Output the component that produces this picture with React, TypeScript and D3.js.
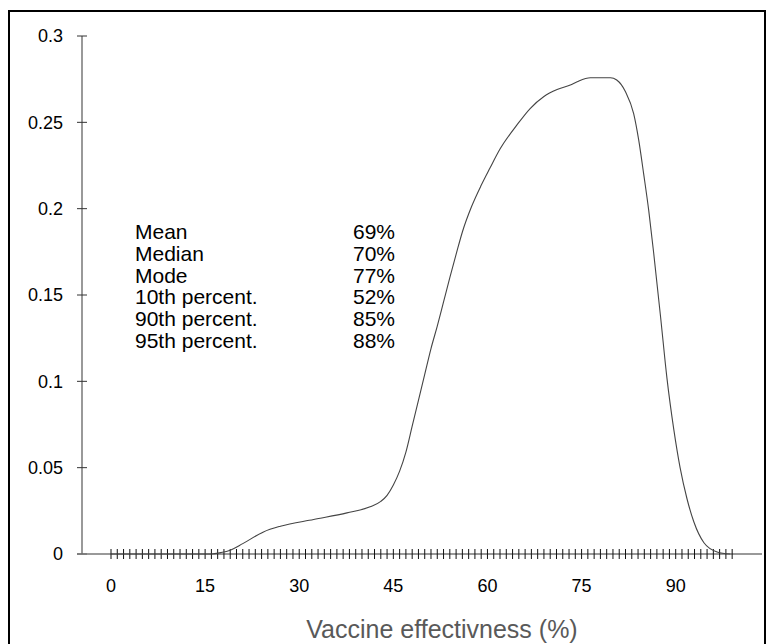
import * as d3 from "d3";
import { useEffect, useRef } from "react";

// density curve
const effectiveness = [0, 16, 17.5, 19, 21, 24.3, 27, 32.3, 37.6, 41.3, 43, 44, 45, 46, 47, 48, 49, 50, 51, 52, 53, 54, 55, 56, 57.5, 59, 60.4, 62, 64.7, 66.8, 69, 71.1, 73.2, 74.3, 76.4, 79.6, 80.6, 82, 83.3, 84.1, 84.9, 85.7, 86.5, 87.6, 88.6, 89.7, 90.7, 91.8, 92.9, 94.5, 96.6, 98.7];
const density = [0, 0, 0.0008, 0.0022, 0.006, 0.0128, 0.0161, 0.02, 0.0238, 0.0273, 0.0305, 0.034, 0.04, 0.048, 0.059, 0.074, 0.089, 0.104, 0.119, 0.132, 0.146, 0.16, 0.1735, 0.1865, 0.2015, 0.2135, 0.2235, 0.2345, 0.2485, 0.258, 0.265, 0.269, 0.2716, 0.2735, 0.2758, 0.2758, 0.2745, 0.2677, 0.255, 0.2398, 0.22, 0.199, 0.174, 0.137, 0.102, 0.072, 0.05, 0.032, 0.0185, 0.0065, 0.0012, 0];

const xTickLabels = [0, 15, 30, 45, 60, 75, 90];
const xMinorTicks = d3.range(0, 100);
const yTicks = [0, 0.05, 0.1, 0.15, 0.2, 0.25, 0.3];

const statLabels = ["Mean", "Median", "Mode", "10th percent.", "90th percent.", "95th percent."];
const statValues = ["69%", "70%", "77%", "52%", "85%", "88%"];

const FONT = "'Liberation Sans', Arial, sans-serif";

const App = () => {
	const chartRef = useRef(null);

	useEffect(() => {
		const svg = d3.select(chartRef.current);
		svg.selectAll("*").remove();

		const x = d3.scaleLinear().domain([0, 90]).range([111, 675.7]);
		const y = d3.scaleLinear().domain([0, 0.3]).range([554, 36]);
		const axisX = 82;
		const axisY = y(0);

		// outer frame
		svg.append("rect")
			.attr("x", 9).attr("y", 11)
			.attr("width", 756).attr("height", 660)
			.attr("fill", "none")
			.attr("stroke", "#000")
			.attr("stroke-width", 2);

		// y axis
		svg.append("line")
			.attr("x1", axisX).attr("x2", axisX)
			.attr("y1", y(0.3)).attr("y2", axisY)
			.attr("stroke", "#777").attr("stroke-width", 1.5);

		svg.selectAll(".ytick")
			.data(yTicks)
			.enter()
			.append("line")
			.attr("x1", axisX - 5).attr("x2", axisX + 5)
			.attr("y1", d => y(d)).attr("y2", d => y(d))
			.attr("stroke", "#333");

		svg.selectAll(".ylabel")
			.data(yTicks)
			.enter()
			.append("text")
			.attr("x", 63)
			.attr("y", d => y(d))
			.attr("dy", "0.36em")
			.attr("text-anchor", "end")
			.style("font-family", FONT)
			.style("font-size", "18px")
			.text(d => d === 0 ? "0" : String(d));

		// x axis
		svg.append("line")
			.attr("x1", axisX - 5).attr("x2", 762)
			.attr("y1", axisY).attr("y2", axisY)
			.attr("stroke", "#777").attr("stroke-width", 1.5);

		svg.selectAll(".xminor")
			.data(xMinorTicks)
			.enter()
			.append("line")
			.attr("x1", d => x(d)).attr("x2", d => x(d))
			.attr("y1", axisY - 5).attr("y2", axisY + 5)
			.attr("stroke", "#111");

		svg.selectAll(".xlabel")
			.data(xTickLabels)
			.enter()
			.append("text")
			.attr("x", d => x(d))
			.attr("y", 592)
			.attr("text-anchor", "middle")
			.style("font-family", FONT)
			.style("font-size", "18px")
			.text(d => d);

		svg.append("text")
			.attr("x", 442)
			.attr("y", 638)
			.attr("text-anchor", "middle")
			.attr("fill", "#595959")
			.style("font-family", FONT)
			.style("font-size", "25px")
			.text("Vaccine effectivness (%)");

		// density curve
		const pts = effectiveness.map((v, i) => [v, density[i]]);
		const line = d3.line()
			.x(d => x(d[0]))
			.y(d => y(d[1]))
			.curve(d3.curveMonotoneX);
		svg.append("path")
			.attr("d", line(pts))
			.attr("fill", "none")
			.attr("stroke", "#444")
			.attr("stroke-width", 1.1);

		// summary stats
		const rowY = d3.scaleBand().domain(statLabels).range([221, 351]);
		svg.selectAll(".stat")
			.data(statLabels)
			.enter()
			.append("text")
			.attr("x", 135)
			.attr("y", d => rowY(d) + rowY.bandwidth() / 2)
			.attr("dy", "0.36em")
			.style("font-family", FONT)
			.style("font-size", "21px")
			.text(d => d);
		svg.selectAll(".statval")
			.data(statValues)
			.enter()
			.append("text")
			.attr("x", 395)
			.attr("y", (d, i) => rowY(statLabels[i]) + rowY.bandwidth() / 2)
			.attr("dy", "0.36em")
			.attr("text-anchor", "end")
			.style("font-family", FONT)
			.style("font-size", "21px")
			.text(d => d);
	}, []);

	return (
		<svg ref={chartRef} width={770} height={644}
			style={{ position: "absolute", left: 0, top: 0, background: "#fff" }}></svg>
	);
};

export default App;
